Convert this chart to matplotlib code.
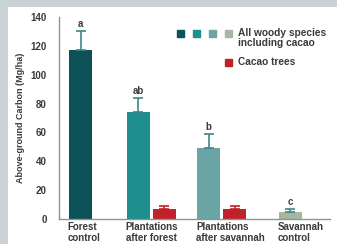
import matplotlib.pyplot as plt
from matplotlib.patches import Rectangle
from matplotlib import font_manager

# data
categories = ['Forest\ncontrol', 'Plantations\nafter forest', 'Plantations\nafter savannah', 'Savannah\ncontrol']
woody = [117, 74, 49, 5]
woody_err = [13, 10, 10, 2]
cacao = [None, 7, 7, None]
cacao_err = [None, 2, 2, None]
letters = ['a', 'ab', 'b', 'c']

woody_colors = ['#0c5157', '#1e8e8e', '#6aa4a4', '#a6b7a0']
red = '#c0222b'
txt = '#3a3a3a'

# bar left edges in units of bar width (layout only)
lefts = [0, 2.52, 5.57, 9.13]
red_off = 1.13

names = {f.name for f in font_manager.fontManager.ttflist}
fam = 'Liberation Sans Narrow' if 'Liberation Sans Narrow' in names else 'Liberation Sans'
plt.rcParams['font.family'] = [fam, 'DejaVu Sans']
plt.rcParams['font.weight'] = 'bold'
plt.rcParams['axes.labelweight'] = 'bold'

fig = plt.figure(figsize=(3.37, 2.44), dpi=100)
fig.patch.set_facecolor('#c9d3d6')
fig.patches.append(Rectangle((8 / 337, 0), 1, (244 - 7) / 244, transform=fig.transFigure,
                             facecolor='white', edgecolor='none', zorder=-5))

ax = fig.add_axes([59 / 337, 25 / 244, (330 - 59) / 337, (219 - 17) / 244])
ax.set_facecolor('none')
ax.set_zorder(2)

for i in range(len(categories)):
    x = lefts[i]
    ax.bar(x, woody[i], width=1, align='edge', color=woody_colors[i], zorder=2)
    ax.errorbar(x + 0.5, woody[i], yerr=[[0], [woody_err[i]]], fmt='none',
                ecolor='#3f858b', elinewidth=1.2, capsize=3.5, capthick=1.2, zorder=3)
    ax.text(x + 0.5, woody[i] + woody_err[i] + 1.5, letters[i], ha='center', va='bottom',
            fontsize=7, color=txt)
    if cacao[i] is not None:
        xr = x + red_off
        ax.bar(xr, cacao[i], width=1, align='edge', color=red, zorder=2)
        ax.errorbar(xr + 0.5, cacao[i], yerr=[[0], [cacao_err[i]]], fmt='none',
                    ecolor=red, elinewidth=1.2, capsize=3.5, capthick=1.2, zorder=3)
    ax.text(x - 0.05, -2, categories[i], ha='left', va='top', fontsize=7, color=txt,
            linespacing=1.1)

ax.set_xlim(-0.435, 11.35)
ax.set_ylim(0, 140)
ax.set_yticks(range(0, 141, 20))
ax.set_xticks([])
ax.tick_params(axis='y', length=0, labelsize=7, labelcolor=txt, pad=9)
for s in ['top', 'right']:
    ax.spines[s].set_visible(False)
for s in ['left', 'bottom']:
    ax.spines[s].set_color('#8a9597')
    ax.spines[s].set_linewidth(1)
ax.set_ylabel('Above-ground Carbon (Mg/ha)', fontsize=6.5, color=txt, labelpad=4)

# legend drawn by hand
sq = 7 / 337
for j, c in enumerate(woody_colors):
    fig.patches.append(Rectangle(((177 + 16 * j) / 337, 1 - 37 / 244), sq, 7 / 244,
                                 transform=fig.transFigure, color=c))
fig.patches.append(Rectangle((225 / 337, 1 - 66 / 244), sq, 7 / 244,
                             transform=fig.transFigure, color=red))
fig.text(238 / 337, 1 - 27.5 / 244, 'All woody species\nincluding cacao', ha='left', va='top',
         fontsize=7.3, color=txt, linespacing=1.1)
fig.text(238 / 337, 1 - 62.5 / 244, 'Cacao trees', ha='left', va='center',
         fontsize=7.3, color=txt)

fig.savefig('out.png', dpi=100, facecolor=fig.get_facecolor())
